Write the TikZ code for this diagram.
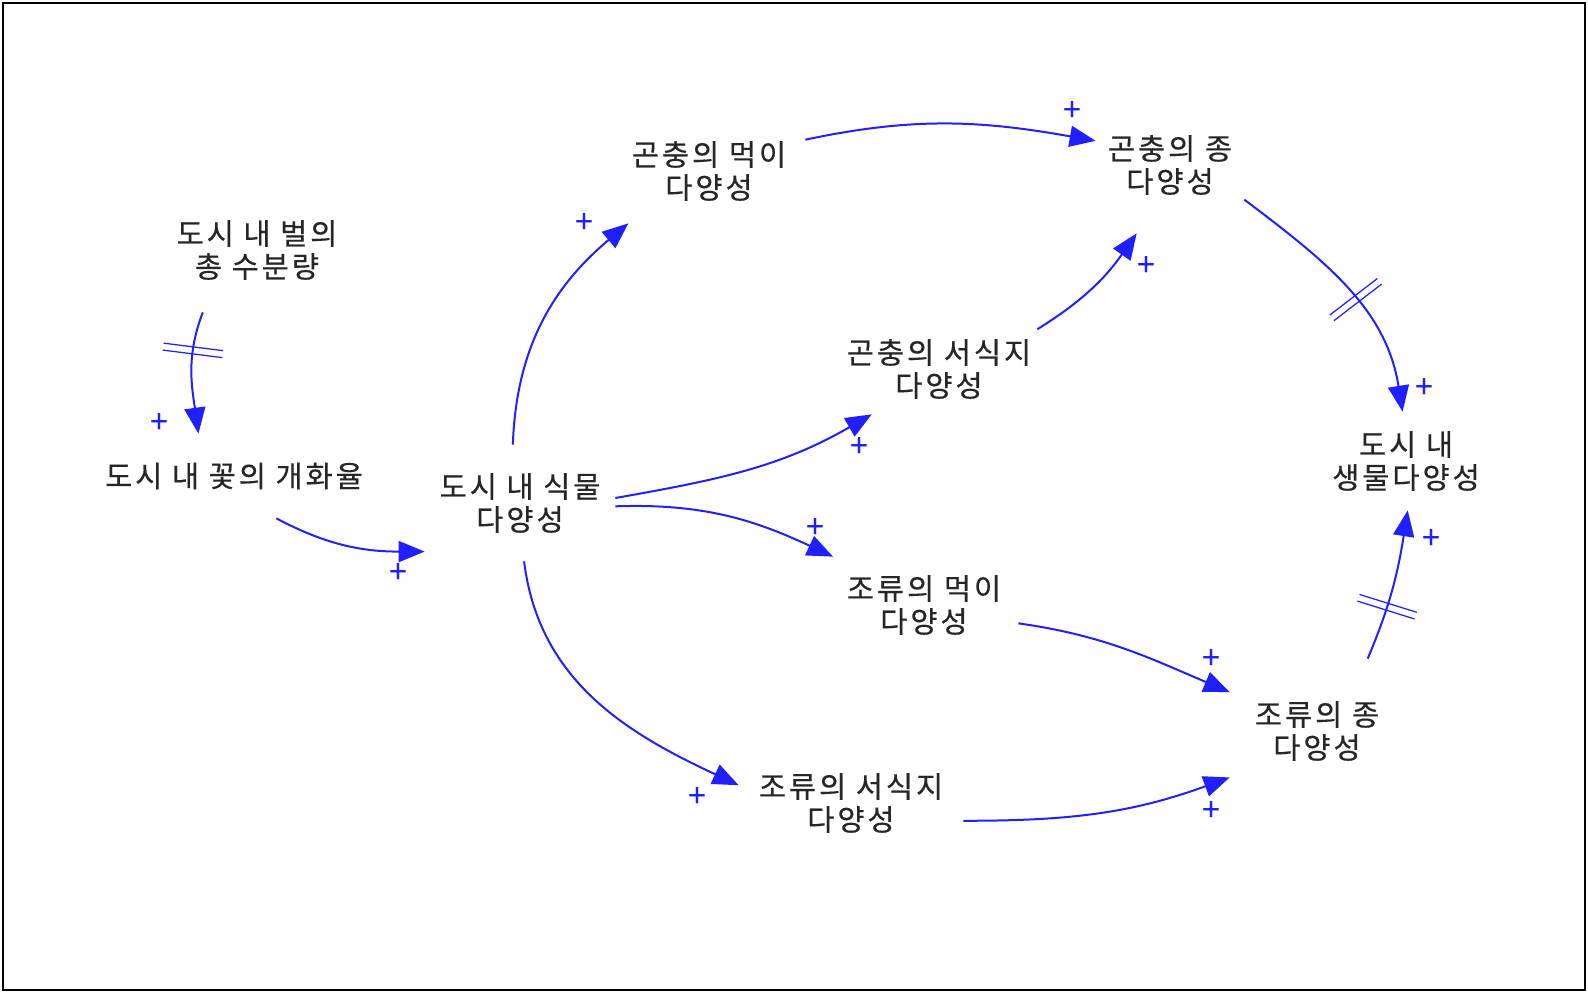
\documentclass[tikz,border=0pt]{standalone}
\usepackage{fontspec}
\newfontfamily\krfont{Noto Sans CJK KR}[LetterSpace=10,FakeBold=0.4]
\usetikzlibrary{arrows.meta,decorations.markings}
\definecolor{cldblue}{RGB}{32,32,255}

\begin{document}
\begin{tikzpicture}[x=0.02cm,y=0.02cm,>={Triangle[length=0.52cm,width=0.42cm]},
  var/.style 2 args={align=center,inner sep=0pt,minimum width=#1,minimum height=#2,font=\krfont\fontsize{16.8}{18.8}\selectfont,text=black!85},
  link/.style={->,draw=cldblue,line width=0.04cm},
  pol/.style={inner sep=0pt,text=cldblue,font=\krfont\fontsize{18}{18}\selectfont},
  delay/.style={postaction={decorate},decoration={markings,mark=at position #1 with {\draw[-,cldblue,line width=0.025cm] (-3.5,-30)--(-3.5,30) (3.5,-30)--(3.5,30);}}}]
\useasboundingbox (0,0) rectangle (1588,-996);
\draw[line width=0.05cm] (3.2,-3.2) rectangle (1585,-990);
\node[var={3.6cm}{2.48cm}] (bee) at (257,-250) {도시 내 벌의\\총 수분량};
\node[var={5.28cm}{1.68cm}] (flower) at (234,-476) {도시 내 꽃의 개화율};
\node[var={3.8cm}{2.32cm}] (plant) at (520,-503) {도시 내 식물\\다양성};
\node[var={3.84cm}{2.08cm}] (insfood) at (709,-171) {곤충의 먹이\\다양성};
\node[var={2.96cm}{2.72cm}] (insspec) at (1170,-165) {곤충의 종\\다양성};
\node[var={3.92cm}{1.8cm}] (inshab) at (939,-369) {곤충의 서식지\\다양성};
\node[var={3.2cm}{1.96cm}] (urban) at (1406,-461) {도시 내\\생물다양성};
\node[var={3.76cm}{1.92cm}] (birdfood) at (924,-605) {조류의 먹이\\다양성};
\node[var={3.48cm}{2.88cm}] (birdspec) at (1317,-731) {조류의 종\\다양성};
\node[var={4.48cm}{1.6cm}] (birdhab) at (851,-803) {조류의 서식지\\다양성};
% links
\draw[link,delay=0.32] (bee.-131) to[out=-111,in=98] (flower.130);
\draw[link] (flower.-45) to[out=-28,in=180] (plant.-153);
\draw[link] (plant.97) to[out=88,in=-140] (insfood.-147);
\draw[link] (insfood.18) to[out=12,in=170] (insspec.162);
\draw[link] (plant.3) to[out=10,in=-150] (inshab.-146);
\draw[link] (inshab.22) to[out=32,in=-125] (insspec.-116);
\draw[link,delay=0.55] (insspec.-25) to[out=-37,in=99] (urban.94);
\draw[link] (plant.-2) to[out=2,in=155] (birdfood.152);
\draw[link] (plant.-86) to[out=-83,in=155] (birdhab.171);
\draw[link] (birdfood.-11) to[out=-8,in=157] (birdspec.156);
\draw[link] (birdhab.-9) to[out=0,in=-160] (birdspec.-152);
\draw[link,delay=0.36] (birdspec.55) to[out=67,in=-99] (urban.-88);
% polarities
\foreach \x/\y [count=\i] in {159/423,398/573,584/223,1072/111,859/447,1146/266,1424/388,815/528,697/797,1211/659,1211/811,1431/539}
  \node[pol] (p\i) at (\x,-\y) {+};
\end{tikzpicture}
\end{document}
